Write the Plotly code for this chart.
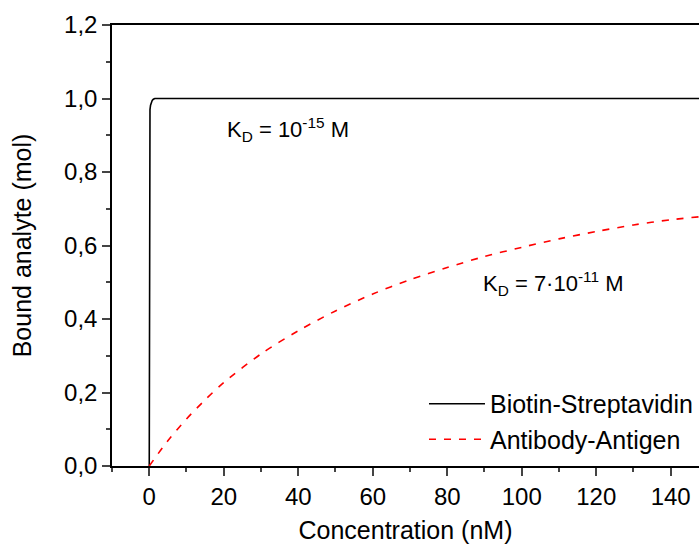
import plotly.graph_objects as go

# Biotin-Streptavidin binding curve (concentration in nM, bound analyte in mol)
biotin_conc = [0, 0.02, 0.05, 0.1, 0.2, 0.35, 0.55, 0.8, 1.1, 1.5, 2.0, 147.6]
biotin_bound = [0.0, 0.85, 0.92, 0.95, 0.97, 0.982, 0.99, 0.995, 0.998, 1.0, 1.0, 1.0]

# Antibody-Antigen binding curve
antibody_conc = [0, 5, 10, 15, 20, 30, 40, 50, 60, 70, 80, 90, 100, 110, 120, 130, 140, 147.6]
antibody_bound = [0.0, 0.069, 0.128, 0.18, 0.227, 0.305, 0.368, 0.422, 0.468, 0.507,
                  0.54, 0.57, 0.595, 0.618, 0.638, 0.656, 0.670, 0.678]

x_ticks = [0, 20, 40, 60, 80, 100, 120, 140]
y_ticks = [0.0, 0.2, 0.4, 0.6, 0.8, 1.0, 1.2]

FONT = "Liberation Sans, Arial, sans-serif"

fig = go.Figure()
fig.add_trace(go.Scatter(
    x=biotin_conc, y=biotin_bound, mode="lines", name="Biotin-Streptavidin",
    line=dict(color="black", width=1.6),
))
fig.add_trace(go.Scatter(
    x=antibody_conc, y=antibody_bound, mode="lines", name="Antibody-Antigen",
    line=dict(color="#ff0000", width=1.6, dash="7px,8px", shape="spline", smoothing=0.8),
))

fig.add_annotation(
    x=20.4, y=0.917, xref="x", yref="y", xanchor="left", yanchor="middle",
    text="K<sub>D</sub> = 10<sup>-15</sup> M", showarrow=False,
    font=dict(family=FONT, size=22, color="black"),
)
fig.add_annotation(
    x=89.0, y=0.496, xref="x", yref="y", xanchor="left", yanchor="middle",
    text="K<sub>D</sub> = 7·10<sup>-11</sup> M", showarrow=False,
    font=dict(family=FONT, size=22, color="black"),
)

fig.update_layout(
    width=699, height=544,
    margin=dict(l=112, r=0, t=25, b=78),
    paper_bgcolor="white", plot_bgcolor="white",
    separators=", ",
    font=dict(family=FONT, size=24, color="black"),
    showlegend=True,
    legend=dict(
        x=0.5315, y=0.101, xanchor="left", yanchor="middle",
        bgcolor="rgba(0,0,0,0)", font=dict(family=FONT, size=25, color="black"),
        itemwidth=56, tracegroupgap=0,
    ),
)

fig.update_xaxes(
    range=[-10, 147.6], tickvals=x_ticks, ticks="outside", ticklen=8, tickwidth=1.5,
    showline=True, linecolor="black", linewidth=1.5, mirror=True, showgrid=False,
    zeroline=False, tickfont=dict(size=24),
    minor=dict(dtick=10, tick0=0, ticks="outside", ticklen=4, tickwidth=1.5, showgrid=False),
    title=dict(text="Concentration (nM)", font=dict(size=25), standoff=16),
)
fig.update_yaxes(
    range=[0, 1.2], tickvals=y_ticks, tickformat=".1f", ticks="outside", ticklen=8,
    tickwidth=1.5, showline=True, linecolor="black", linewidth=1.5, showgrid=False,
    zeroline=False, tickfont=dict(size=24),
    minor=dict(dtick=0.1, tick0=0, ticks="outside", ticklen=4, tickwidth=1.5, showgrid=False),
    title=dict(text="Bound analyte (mol)", font=dict(size=25), standoff=25),
)

fig.write_html("out.html")
